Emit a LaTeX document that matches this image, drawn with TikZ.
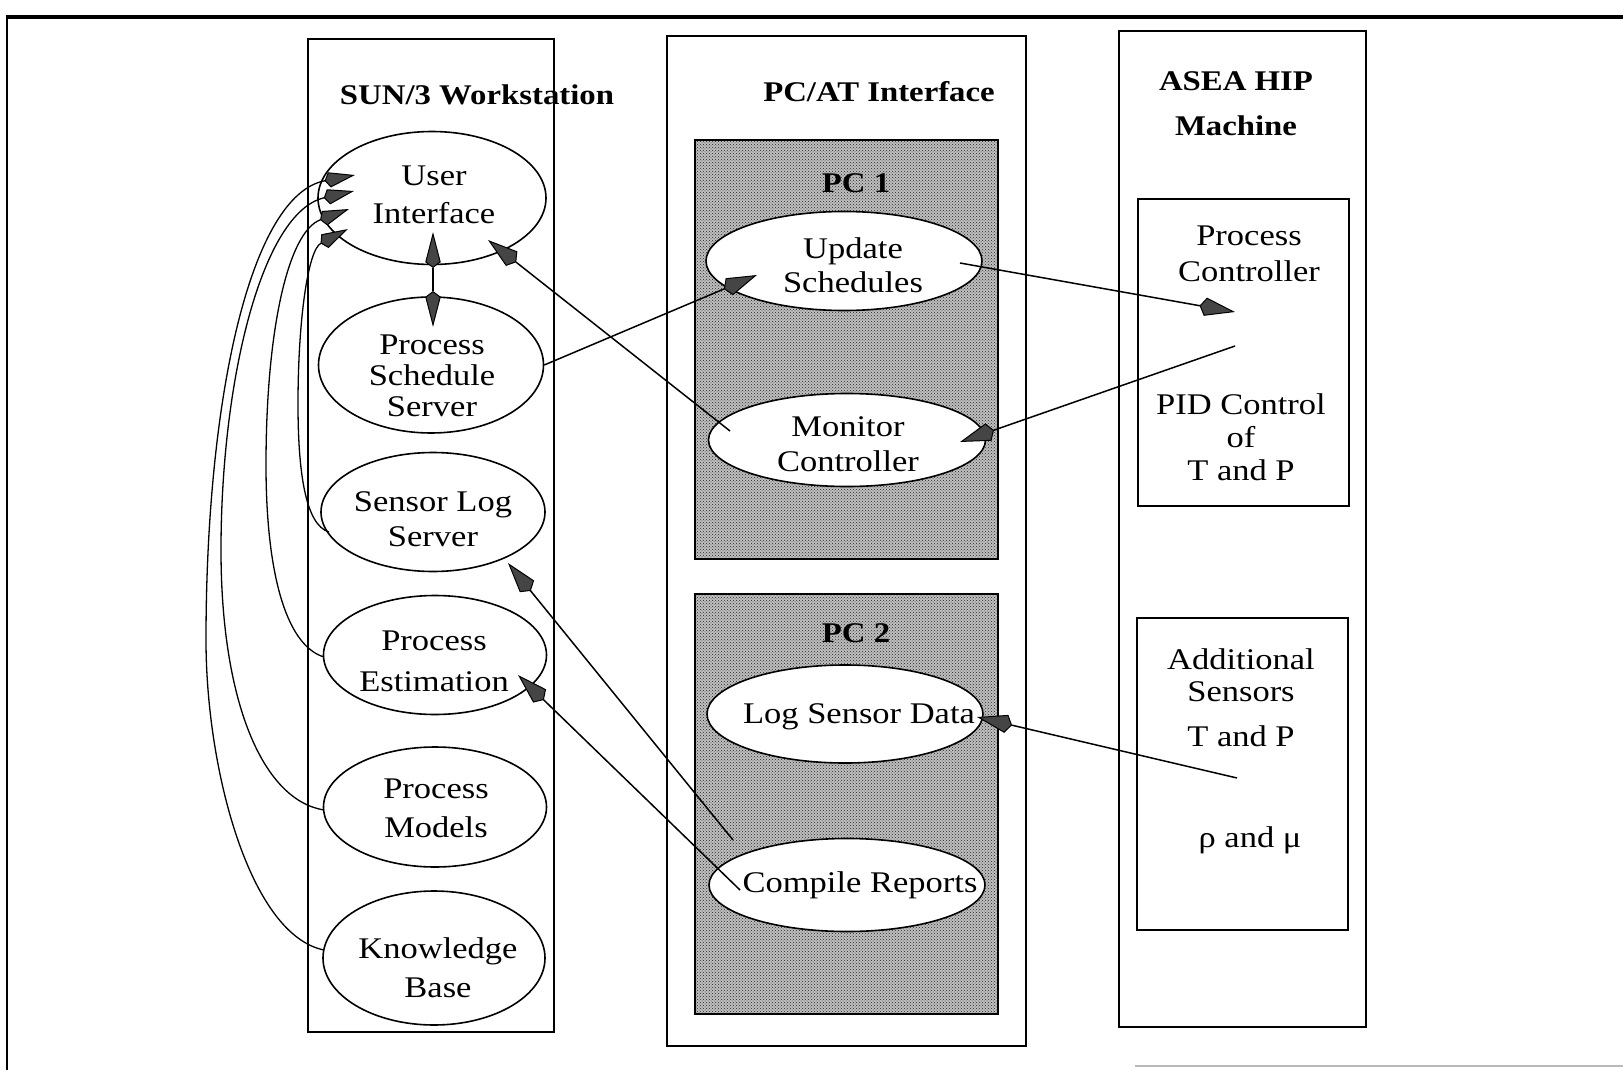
\documentclass[tikz,border=0pt]{standalone}
\usepackage{fontspec}
\setmainfont{Liberation Serif}[FakeStretch=1.15]
\usetikzlibrary{arrows.meta,patterns,shapes.geometric}

\definecolor{headgray}{gray}{0.27}

\tikzset{
  column/.style={draw, line width=2pt, inner sep=0pt, outer sep=0pt},
  shaded/.style={column, preaction={fill=gray!50}, pattern=crosshatch dots, pattern color=black!85},
  oval/.style={ellipse, draw, line width=1.6pt, fill=white, inner sep=0pt},
  txt/.style={align=center, inner sep=0pt},
  ttl/.style={align=center, inner sep=0pt, font=\bfseries\fontsize{28.5}{34}\selectfont},
  tip/.tip={Stealth[length=30pt,width=18pt,inset=-6pt,fill=headgray,line width=1pt]},
  smalltip/.tip={Stealth[length=26pt,width=15pt,inset=-5pt,fill=headgray,line width=1pt]},
  longtip/.tip={Stealth[length=30pt,width=15pt,inset=-6pt,fill=headgray,line width=1pt]},
  link/.style={line width=1.5pt, -tip},
  loop/.style={line width=1.3pt, -smalltip},
}

\begin{document}
\begin{tikzpicture}[x=1pt, y=-1pt, font=\fontsize{30}{36}\selectfont]
\useasboundingbox[fill=white] (0,0) rectangle (1623,1070);

% page rules
\draw[line width=3.5pt] (6,17) -- (1623,17);
\draw[line width=2pt] (7,17) -- (7,1070);
\draw[line width=2pt, gray!55] (1135,1066) -- (1623,1066);

% the three columns
\node[column, minimum width=246pt, minimum height=993pt] (sun) at (431,535.5) {};
\node[column, minimum width=359pt, minimum height=1010pt] (pcat) at (846.5,541) {};
\node[column, minimum width=247pt, minimum height=996pt] (asea) at (1242.5,529) {};

% PC boards
\node[shaded, minimum width=303pt, minimum height=419pt] (pc1) at (846.5,349.5) {};
\node[shaded, minimum width=303pt, minimum height=420pt] (pc2) at (846.5,804) {};

% machine units
\node[column, minimum width=211pt, minimum height=307pt] (pcbox) at (1243.5,352.5) {};
\node[column, minimum width=211pt, minimum height=312pt] (asbox) at (1242.5,774) {};

% column titles
\node[ttl] (sunT) at (477,95) {SUN/3 Workstation};
\node[ttl] (pcatT) at (879,92) {PC/AT Interface};
\node[ttl, font=\bfseries\fontsize{28.5}{45}\selectfont] (aseaT) at (1236,104) {ASEA HIP\\Machine};
\node[ttl] (pc1T) at (856,183) {PC 1};
\node[ttl] (pc2T) at (856,633) {PC 2};

% workstation processes
\node[oval, minimum width=228pt, minimum height=133pt] (ui) at (432,198) {};
\node[oval, minimum width=225pt, minimum height=136pt] (pss) at (431,365) {};
\node[oval, minimum width=224pt, minimum height=119pt] (sls) at (433,512) {};
\node[oval, minimum width=223pt, minimum height=119pt] (pe) at (435,655) {};
\node[oval, minimum width=223pt, minimum height=120pt] (pm) at (435,807) {};
\node[oval, minimum width=222pt, minimum height=134pt] (kb) at (434,958) {};

% PC processes
\node[oval, minimum width=276pt, minimum height=99pt] (us) at (844,261) {};
\node[oval, minimum width=277pt, minimum height=93pt] (mc) at (847,440) {};
\node[oval, minimum width=276pt, minimum height=98pt] (lsd) at (845,714) {};
\node[oval, minimum width=276pt, minimum height=93pt] (cr) at (847,885) {};

% labels
\node[txt, font=\fontsize{30}{38}\selectfont] (uiT) at (434,195) {User\\Interface};
\node[txt, font=\fontsize{30}{31}\selectfont] (pssT) at (432,376) {Process\\Schedule\\Server};
\node[txt, font=\fontsize{30}{35}\selectfont] (slsT) at (433,519) {Sensor Log\\Server};
\node[txt, font=\fontsize{30}{41}\selectfont] (peT) at (434,661) {Process\\Estimation};
\node[txt, font=\fontsize{30}{39}\selectfont] (pmT) at (436,808) {Process\\Models};
\node[txt, font=\fontsize{30}{39}\selectfont] (kbT) at (438,968) {Knowledge\\Base};
\node[txt, font=\fontsize{30}{34}\selectfont] (usT) at (853,265) {Update\\Schedules};
\node[txt, font=\fontsize{30}{35}\selectfont] (mcT) at (848,444) {Monitor\\Controller};
\node[txt] (lsdT) at (859,717) {Log Sensor Data};
\node[txt] (crT) at (860,885) {Compile Reports};
\node[txt, font=\fontsize{30}{36}\selectfont] (pcT) at (1249,254) {Process\\Controller};
\node[txt, font=\fontsize{30}{33}\selectfont] (pidT) at (1241,437) {PID Control\\of\\T and P};
\node[txt, font=\fontsize{30}{32}\selectfont] (asT) at (1241,675) {Additional\\Sensors};
\node[txt] (tpT) at (1241,736) {T and P};
\node[txt] (rmT) at (1250,840) {ρ and μ};

% connector end points
\coordinate (uiS) at (433,232);
\coordinate (pssN) at (433,327);
\coordinate (usW) at (757,275);
\coordinate (mcW) at (730,431);
\coordinate (uiSE) at (488,240);
\coordinate (usE) at (960,263);
\coordinate (pcIn) at (1235,312);
\coordinate (pcOut) at (1235,346);
\coordinate (mcE) at (960,442);
\coordinate (asOut) at (1237,778);
\coordinate (lsdE) at (977,717);
\coordinate (crA) at (733,840);
\coordinate (slsSE) at (508,563);
\coordinate (crB) at (740,890);
\coordinate (peE) at (518,675);
\coordinate (uiW1) at (355,175);
\coordinate (uiW2) at (354,191);
\coordinate (uiW3) at (349,209);
\coordinate (uiW4) at (348,229);
\coordinate (kbW) at (324,950);
\coordinate (pmW) at (324,810);
\coordinate (peW) at (324,657);
\coordinate (slsW) at (329,532);

% data flows
\draw[line width=1.5pt, longtip-longtip] (uiS) -- (pssN);
\draw[link] (pss.east) -- (usW);
\draw[link] (mcW) -- (uiSE);
\draw[link] (usE) -- (pcIn);
\draw[link] (pcOut) -- (mcE);
\draw[link] (asOut) -- (lsdE);
\draw[link] (crA) -- (slsSE);
\draw[link] (crB) -- (peE);

% reports back to the user interface
\draw[loop] (kbW) .. controls (250,935) and (206,770) .. (206,640)
  .. controls (206,400) and (250,195) .. (uiW1);
\draw[loop] (pmW) .. controls (262,800) and (221,700) .. (221,550)
  .. controls (221,380) and (262,212) .. (uiW2);
\draw[loop] (peW) .. controls (285,645) and (266,570) .. (266,465)
  .. controls (266,330) and (288,232) .. (uiW3);
\draw[loop] (slsW) .. controls (305,525) and (298,470) .. (298,404)
  .. controls (298,320) and (308,250) .. (uiW4);
\end{tikzpicture}
\end{document}
